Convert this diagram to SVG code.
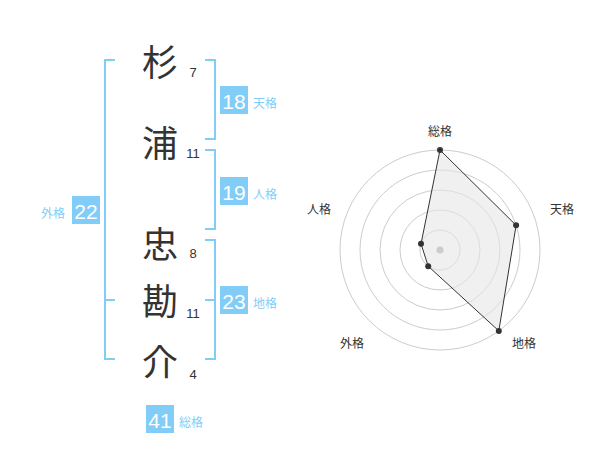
<svg xmlns="http://www.w3.org/2000/svg" width="600" height="470" viewBox="0 0 600 470">
<style>
.kanji{font-family:"Noto Sans CJK JP","Noto Sans CJK SC",sans-serif;font-size:36px;fill:#333;text-anchor:middle;dominant-baseline:central}
.num{font-family:"Liberation Sans",Arial,sans-serif;font-size:13px;fill:#333;text-anchor:middle;dominant-baseline:central}
.br{fill:none;stroke:#82cdf8;stroke-width:2}
.badge{fill:#82cdf8}
.bt{font-family:"Liberation Sans",Arial,sans-serif;font-size:21px;fill:#fff;text-anchor:middle;dominant-baseline:central}
.bl{font-family:"Noto Sans CJK JP","Noto Sans CJK SC",sans-serif;font-size:12px;fill:#82cdf8;dominant-baseline:central}
.ring{fill:none;stroke:#ccc;stroke-width:1}
.rl{font-family:"Noto Sans CJK JP","Noto Sans CJK SC",sans-serif;font-size:12px;fill:#333;text-anchor:middle;dominant-baseline:central}
.pt{fill:#333}
</style>
<rect width="600" height="470" fill="#fff"/>
<g id="chars">
<text class="kanji" x="160" y="60">杉</text>
<text class="num" x="193" y="72">7</text>
<text class="kanji" x="160" y="141">浦</text>
<text class="num" x="193" y="153">11</text>
<text class="kanji" x="160" y="242">忠</text>
<text class="num" x="193" y="253">8</text>
<text class="kanji" x="160" y="299">勘</text>
<text class="num" x="193" y="313">11</text>
<text class="kanji" x="160" y="360">介</text>
<text class="num" x="193" y="374">4</text>
</g>
<g id="brackets">
<path class="br" d="M115,60 H105 V359 H115 M105,300 H115"/>
<path class="br" d="M205,60 H215 V139 H205"/>
<path class="br" d="M205,150 H215 V229 H205"/>
<path class="br" d="M205,240 H215 V359 H205 M205,300 H215"/>
</g>
<g id="tenkaku">
<rect class="badge" x="220" y="86" width="28" height="28"/>
<text class="bt" x="234" y="101">18</text>
<text class="bl" x="253" y="102">天格</text>
</g>
<g id="jinkaku">
<rect class="badge" x="220" y="177" width="28" height="28"/>
<text class="bt" x="234" y="192">19</text>
<text class="bl" x="253" y="193">人格</text>
</g>
<g id="chikaku">
<rect class="badge" x="220" y="286" width="28" height="28"/>
<text class="bt" x="234" y="301">23</text>
<text class="bl" x="253" y="302">地格</text>
</g>
<g id="gaikaku">
<rect class="badge" x="72" y="196" width="28" height="28"/>
<text class="bt" x="86" y="211">22</text>
<text class="bl" x="41" y="212">外格</text>
</g>
<g id="soukaku">
<rect class="badge" x="146" y="405" width="28" height="28"/>
<text class="bt" x="160" y="420">41</text>
<text class="bl" x="179" y="421">総格</text>
</g>
<g id="radar">
<circle class="ring" cx="440" cy="250" r="20"/>
<circle class="ring" cx="440" cy="250" r="40"/>
<circle class="ring" cx="440" cy="250" r="60"/>
<circle class="ring" cx="440" cy="250" r="80"/>
<circle class="ring" cx="440" cy="250" r="100"/>
<polygon points="440,150 516.1,225.3 498.8,330.9 428.2,266.2 421,243.8" fill="#e6e6e6" fill-opacity="0.6" stroke="#333" stroke-width="1"/>
<circle cx="440" cy="250" r="3.5" fill="#ccc"/>
<circle class="pt" cx="440" cy="150" r="3"/>
<circle class="pt" cx="516.1" cy="225.3" r="3"/>
<circle class="pt" cx="498.8" cy="330.9" r="3"/>
<circle class="pt" cx="428.2" cy="266.2" r="3"/>
<circle class="pt" cx="421" cy="243.8" r="3"/>
<text class="rl" x="440" y="130">総格</text>
<text class="rl" x="562" y="208">天格</text>
<text class="rl" x="524" y="342">地格</text>
<text class="rl" x="352" y="342">外格</text>
<text class="rl" x="319" y="208">人格</text>
</g>
</svg>
